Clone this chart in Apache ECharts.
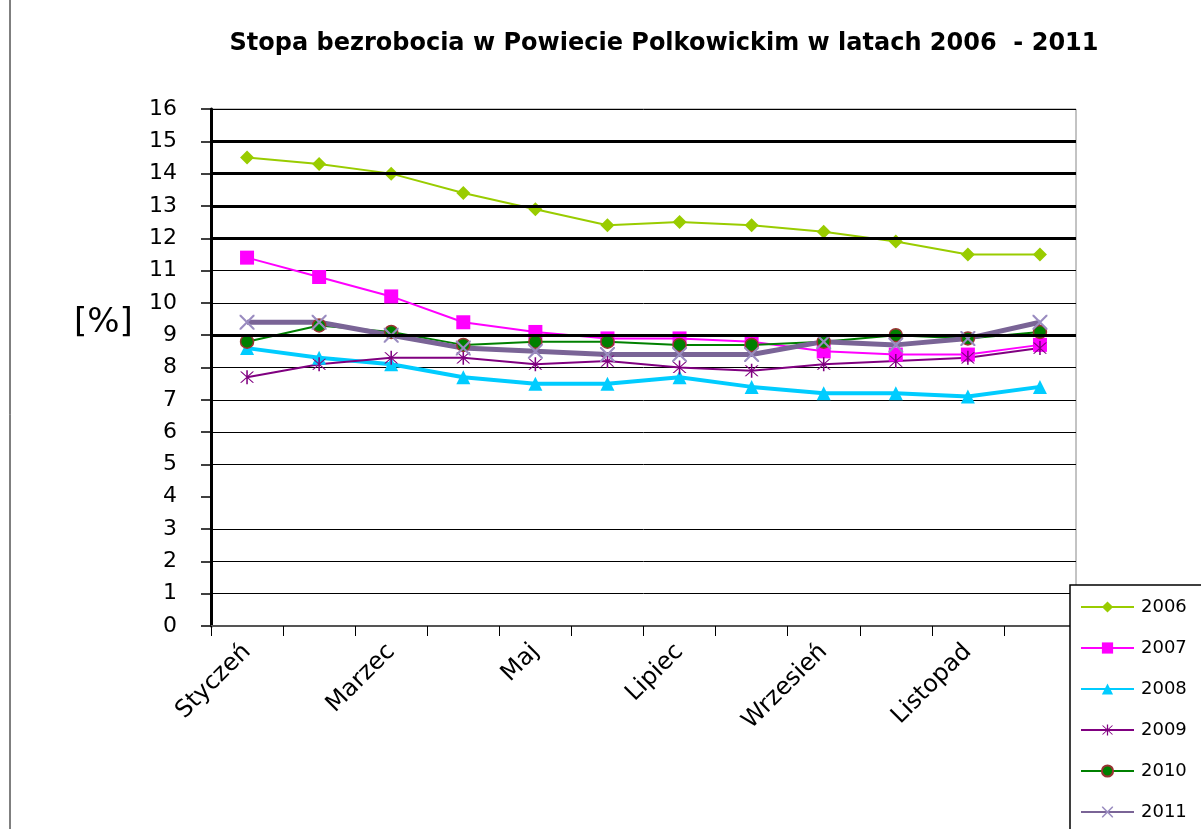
<!DOCTYPE html>
<html>
<head>
<meta charset="utf-8">
<title>Stopa bezrobocia</title>
<script src="https://cdn.jsdelivr.net/npm/echarts@6/dist/echarts.min.js"></script>
<style>
  html, body { margin: 0; padding: 0; background: #fff; }
  #main { width: 1201px; height: 829px; }
</style>
</head>
<body>
<div id="main"></div>
<script>
// miesiące (oś X)
var months = ['Styczeń', 'Luty', 'Marzec', 'Kwiecień', 'Maj', 'Czerwiec', 'Lipiec', 'Sierpień', 'Wrzesień', 'Październik', 'Listopad', 'Grudzień'];
var years = ['2006', '2007', '2008', '2009', '2010', '2011'];

// stopa bezrobocia [%]
var y2006 = [14.5, 14.3, 14.0, 13.4, 12.9, 12.4, 12.5, 12.4, 12.2, 11.9, 11.5, 11.5];
var y2007 = [11.4, 10.8, 10.2, 9.4, 9.1, 8.9, 8.9, 8.8, 8.5, 8.4, 8.4, 8.7];
var y2008 = [8.6, 8.3, 8.1, 7.7, 7.5, 7.5, 7.7, 7.4, 7.2, 7.2, 7.1, 7.4];
var y2009 = [7.7, 8.1, 8.3, 8.3, 8.1, 8.2, 8.0, 7.9, 8.1, 8.2, 8.3, 8.6];
var y2010 = [8.8, 9.3, 9.1, 8.7, 8.8, 8.8, 8.7, 8.7, 8.8, 9.0, 8.9, 9.1];
var y2011 = [9.4, 9.4, 9.0, 8.6, 8.5, 8.4, 8.4, 8.4, 8.8, 8.7, 8.9, 9.4];

// skala osi Y
var yMin = 0;
var yMax = 16;
var yStep = 1;
var boldGrid = [15, 14, 13, 12, 9];

var font = 'DejaVu Sans';

// znaczniki (gwiazdka i krzyżyk)
var starPath = 'path://M9,0 L11,0 L11,20 L9,20 Z M1,2 L3,2 L19,18 L17,18 Z M17,2 L19,2 L3,18 L1,18 Z';
var crossPath = 'path://M0,0 L2,0 L10,8 L18,0 L20,0 L20,2 L12,10 L20,18 L20,20 L18,20 L10,12 L2,20 L0,20 L0,18 L8,10 L0,2 Z';

// kolory siatki - linia dla 4 nie jest rysowana
var gridColors = [];
for (var i = yMin; i <= yMax; i++) {
    gridColors.push(i === 4 ? 'rgba(0,0,0,0)' : '#000');
}

function makeSeries(name, data, color, width, symbol, size, markColor, border) {
    return {
        name: name,
        type: 'line',
        data: data,
        symbol: symbol,
        symbolSize: size,
        showAllSymbol: true,
        lineStyle: { color: color, width: width },
        itemStyle: {
            color: markColor || color,
            borderColor: border || markColor || color,
            borderWidth: border ? 1.5 : 0
        },
        emphasis: { disabled: true }
    };
}

var series = [
    makeSeries(years[0], y2006, '#99CC00', 2, 'diamond', 14),
    makeSeries(years[1], y2007, '#FF00FF', 2, 'rect', 14),
    makeSeries(years[2], y2008, '#00CCFF', 4, 'triangle', 14),
    makeSeries(years[3], y2009, '#800080', 2, starPath, 14),
    makeSeries(years[4], y2010, '#008000', 2, 'circle', 13, '#008000', '#993333'),
    makeSeries(years[5], y2011, '#7A6496', 5, crossPath, 15, '#9A8CC0')
];

// pogrubione linie siatki
series[0].markLine = {
    silent: true,
    symbol: 'none',
    label: { show: false },
    lineStyle: { color: '#000', width: 3, type: 'solid' },
    data: boldGrid.map(function (v) { return { yAxis: v }; })
};

var chart = echarts.init(document.getElementById('main'));

var option = {
    backgroundColor: '#fff',
    animation: false,
    textStyle: { fontFamily: font },
    title: {
        text: 'Stopa bezrobocia w Powiecie Polkowickim w latach 2006  - 2011',
        left: 659,
        textAlign: 'center',
        top: 27,
        textStyle: { fontFamily: font, fontSize: 24, fontWeight: 'bold', color: '#000' }
    },
    legend: {
        orient: 'vertical',
        left: 1080,
        top: 598,
        padding: 0,
        itemWidth: 53,
        itemHeight: 14,
        itemGap: 23,
        lineStyle: { width: 2 },
        textStyle: { fontFamily: font, fontSize: 18, color: '#000', padding: [0, 0, 0, 2] },
        data: years
    },
    grid: {
        left: 211,
        right: 125,
        top: 109,
        bottom: 203,
        show: true,
        borderColor: '#888',
        borderWidth: 1
    },
    xAxis: {
        type: 'category',
        data: months,
        boundaryGap: true,
        axisLine: { lineStyle: { color: '#555', width: 2 } },
        axisTick: { show: true, interval: 0, length: 10, lineStyle: { color: '#000' } },
        axisLabel: {
            interval: 1,
            rotate: 45,
            margin: 22,
            fontSize: 24,
            color: '#000',
            fontFamily: font
        },
        splitLine: { show: false }
    },
    yAxis: {
        type: 'value',
        min: yMin,
        max: yMax,
        interval: yStep,
        axisLine: { show: true, lineStyle: { color: '#000', width: 3 } },
        axisTick: { show: true, inside: false, length: 10, lineStyle: { color: '#000', width: 1.5 } },
        axisLabel: { fontSize: 22, color: '#000', margin: 34, fontFamily: font },
        splitLine: { show: true, lineStyle: { color: gridColors, width: 1 } }
    },
    graphic: [
        {
            type: 'text',
            left: 74,
            top: 306,
            style: { text: '[%]', fontSize: 34, fill: '#000', fontFamily: font }
        },
        {
            type: 'line',
            shape: { x1: 10, y1: 0, x2: 10, y2: 829 },
            style: { stroke: '#000', lineWidth: 1 }
        },
        {
            // ramka legendy
            type: 'rect',
            z: 3,
            shape: { x: 1070, y: 585, width: 200, height: 300 },
            style: { fill: '#fff', stroke: '#000', lineWidth: 1.5 }
        }
    ],
    series: series
};

chart.setOption(option);
</script>
</body>
</html>
